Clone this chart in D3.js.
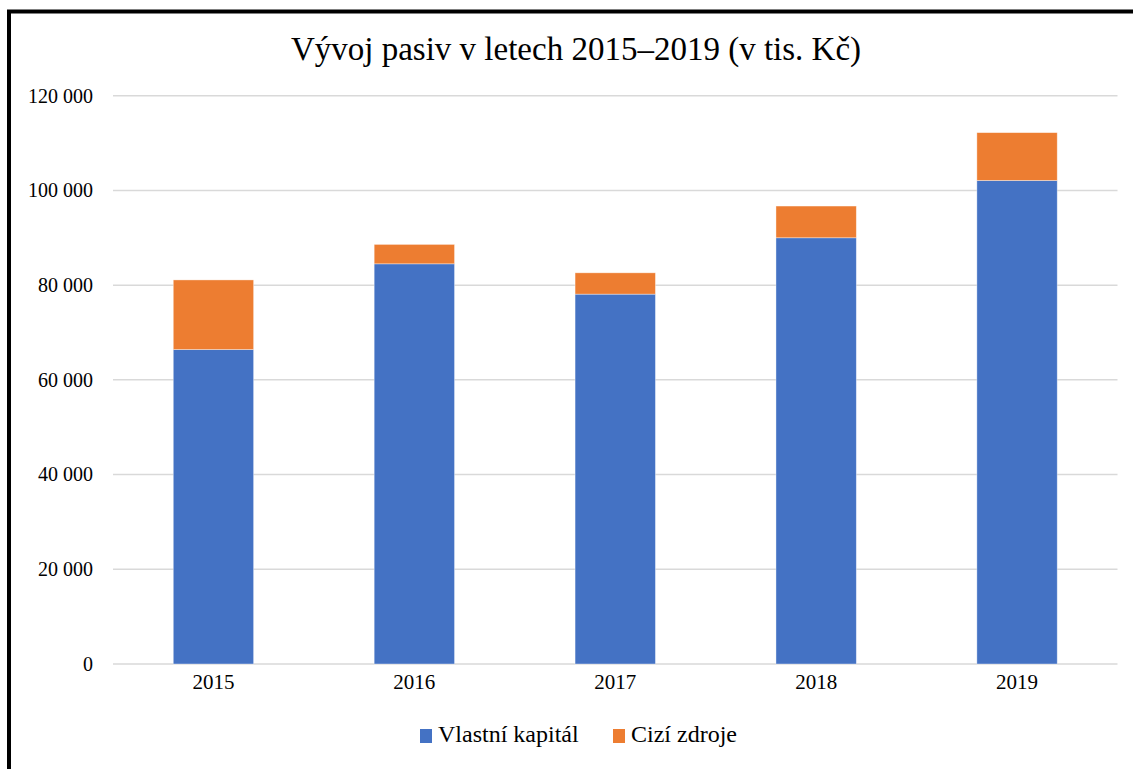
<!DOCTYPE html>
<html>
<head>
<meta charset="utf-8">
<script src="https://cdn.jsdelivr.net/npm/d3@7"></script>
<style>
  html, body { margin: 0; padding: 0; background: #fff; }
  svg { display: block; }
</style>
</head>
<body>
<main></main>
<script>
const years = ['2015', '2016', '2017', '2018', '2019'];
const vlastniKapital = [66400, 84500, 78100, 90000, 102100];
const ciziZdroje = [14700, 4100, 4500, 6700, 10100];
const seriesNames = ['Vlastní kapitál', 'Cizí zdroje'];
const seriesColors = ['#4472c4', '#ed7d31'];
const tickValues = [0, 20000, 40000, 60000, 80000, 100000, 120000];
const tickLabels = ['0', '20 000', '40 000', '60 000', '80 000', '100 000', '120 000'];

const width = 1133;
const height = 769;
const font = "'Liberation Serif', 'Times New Roman', serif";

const svg = d3.select('main')
  .append('svg')
  .attr('width', width)
  .attr('height', height)

// Frame
svg.append('rect')
  .attr('x', 9)
  .attr('y', 11.5)
  .attr('width', width + 20)
  .attr('height', height + 20)
  .attr('fill', 'none')
  .attr('stroke', '#000')
  .attr('stroke-width', 4)

// Title
svg.append('text')
  .text('Vývoj pasiv v letech 2015–2019 (v tis. Kč)')
  .attr('x', 576)
  .attr('y', 60)
  .attr('text-anchor', 'middle')
  .style('font-family', font)
  .style('font-size', '33px')
  .style('fill', '#000')

const x = d3.scaleBand()
  .domain(years)
  .range([113, 1117.5])
  .paddingInner(0.6)
  .paddingOuter(0.3)

const y = d3.scaleLinear()
  .domain([0, 120000])
  .range([664, 95.7])

// Gridlines
svg.append('g')
  .selectAll('line')
  .data(tickValues)
  .enter()
  .append('line')
  .attr('x1', 113)
  .attr('x2', 1117.5)
  .attr('y1', d => y(d))
  .attr('y2', d => y(d))
  .attr('stroke', '#d9d9d9')
  .attr('stroke-width', 1.5)

// Y axis labels
const yAxis = svg.append('g')
  .attr('transform', 'translate(113, 0)')
  .call(d3.axisLeft(y)
    .tickValues(tickValues)
    .tickFormat((d, i) => tickLabels[i])
    .tickSize(0)
    .tickPadding(20))

yAxis.select('.domain').remove()
yAxis.selectAll('text')
  .style('font-family', font)
  .style('font-size', '20px')
  .style('fill', '#000')

// Stacked bars
const table = years.map((yr, i) => ({
  year: yr,
  [seriesNames[0]]: vlastniKapital[i],
  [seriesNames[1]]: ciziZdroje[i]
}))

const stacked = d3.stack().keys(seriesNames)(table)

svg.append('g')
  .selectAll('g')
  .data(stacked)
  .enter()
  .append('g')
  .attr('fill', (d, i) => seriesColors[i])
  .selectAll('rect')
  .data(d => d)
  .enter()
  .append('rect')
  .attr('x', d => x(d.data.year))
  .attr('width', x.bandwidth())
  .attr('y', d => y(d[1]))
  .attr('height', d => y(d[0]) - y(d[1]))
  .attr('stroke', 'rgba(255,255,255,0.5)')
  .attr('stroke-width', 0.75)

// X axis labels
const xAxis = svg.append('g')
  .attr('transform', 'translate(0, 664)')
  .call(d3.axisBottom(x).tickSize(0).tickPadding(10))

xAxis.select('.domain').remove()
xAxis.selectAll('text')
  .style('font-family', font)
  .style('font-size', '21px')
  .style('fill', '#000')

// Legend
const legendItems = [
  { name: seriesNames[0], color: seriesColors[0], x: 420 },
  { name: seriesNames[1], color: seriesColors[1], x: 613 }
]

const legend = svg.append('g')
  .selectAll('g')
  .data(legendItems)
  .enter()
  .append('g')
  .attr('transform', d => `translate(${d.x}, 729)`)

legend.append('rect')
  .attr('width', 12)
  .attr('height', 14)
  .attr('fill', d => d.color)

legend.append('text')
  .text(d => d.name)
  .attr('x', 18)
  .attr('y', 13)
  .style('font-family', font)
  .style('font-size', '24px')
  .style('fill', '#000')
</script>
</body>
</html>
